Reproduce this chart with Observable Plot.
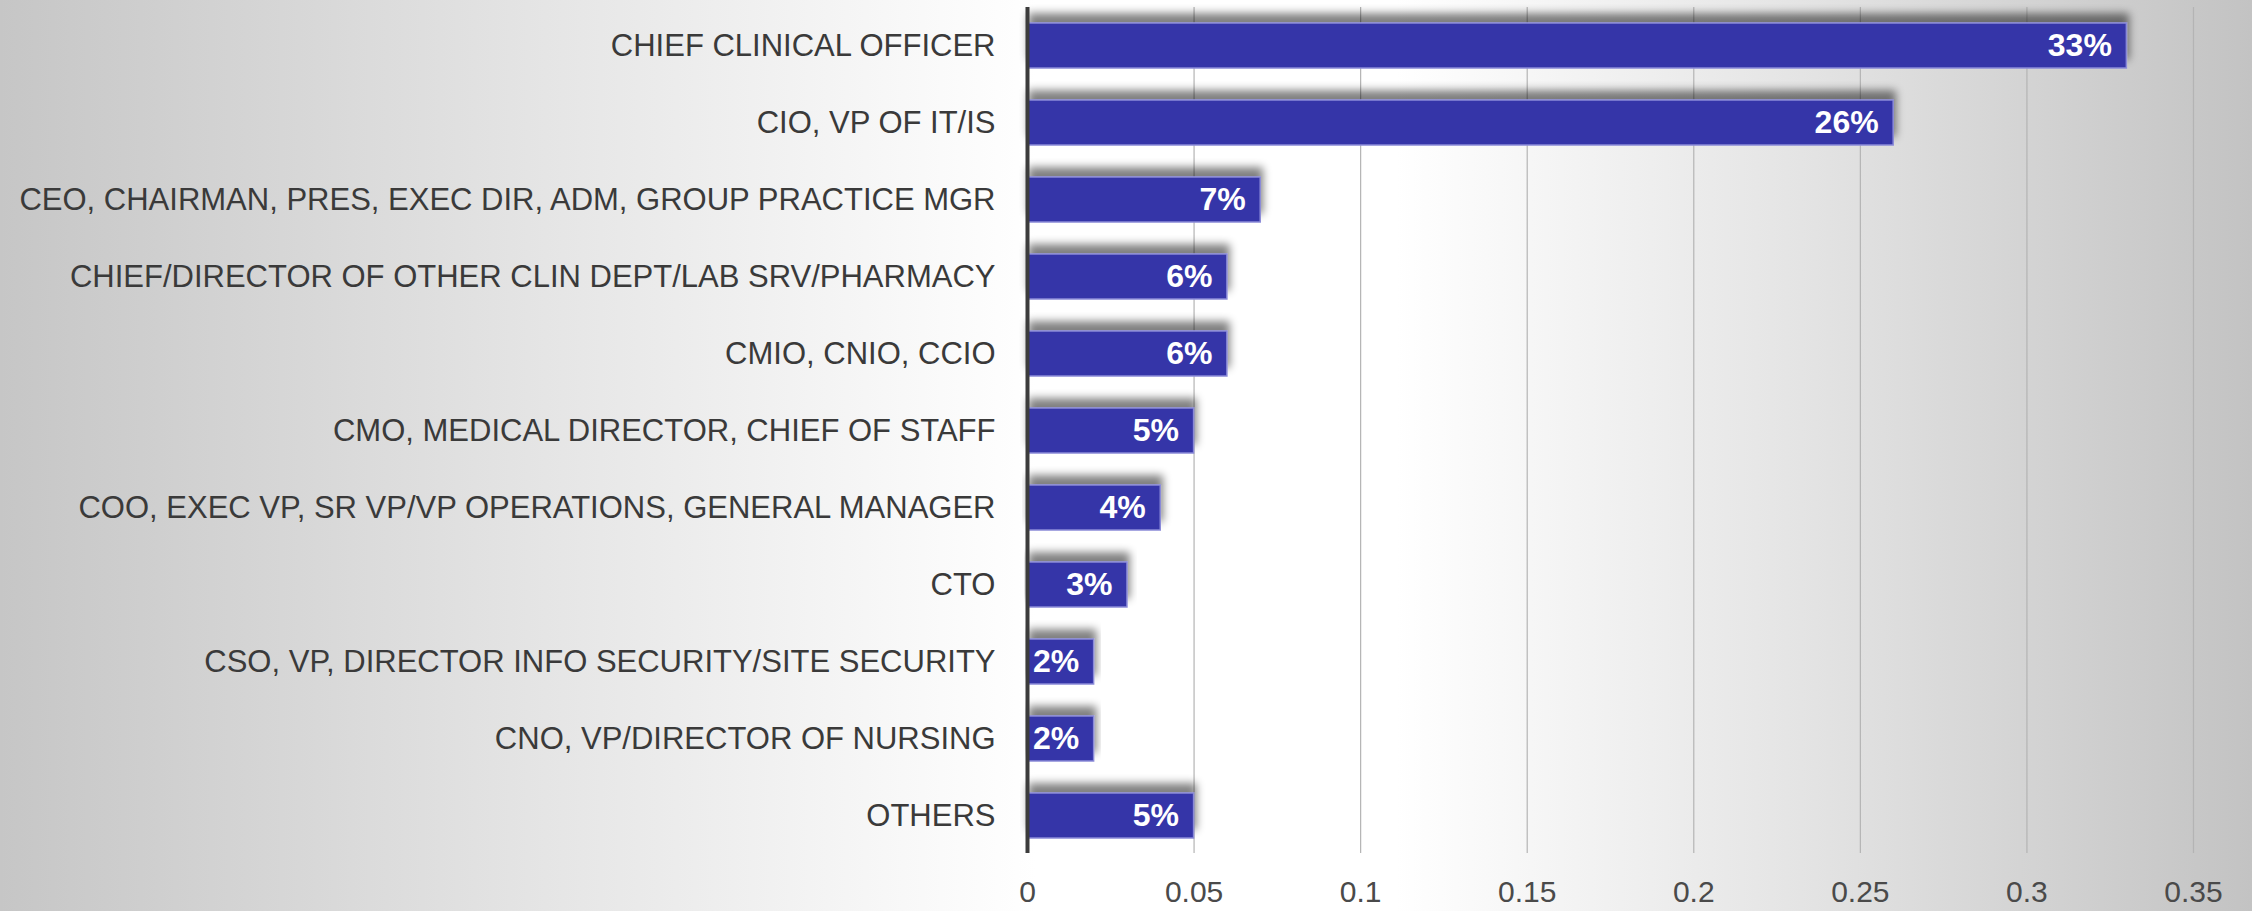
<!DOCTYPE html>
<html>
<head>
<meta charset="utf-8">
<script src="https://cdn.jsdelivr.net/npm/d3@7"></script>
<script src="https://cdn.jsdelivr.net/npm/@observablehq/plot@0.6"></script>
<style>
  html, body { margin: 0; padding: 0; }
  body {
    width: 2252px; height: 911px; overflow: hidden;
    background: linear-gradient(90deg, #c6c6c6 0%, #e6e6e6 25%, #ffffff 46%, #ffffff 62%, #e4e4e4 80%, #c3c3c3 100%);
  }
  #chart svg { display: block; }
</style>
</head>
<body>
<div id="chart"></div>
<script>
const roles = [
  "CHIEF CLINICAL OFFICER",
  "CIO, VP OF IT/IS",
  "CEO, CHAIRMAN, PRES, EXEC DIR, ADM, GROUP PRACTICE MGR",
  "CHIEF/DIRECTOR OF OTHER CLIN DEPT/LAB SRV/PHARMACY",
  "CMIO, CNIO, CCIO",
  "CMO, MEDICAL DIRECTOR, CHIEF OF STAFF",
  "COO, EXEC VP, SR VP/VP OPERATIONS, GENERAL MANAGER",
  "CTO",
  "CSO, VP, DIRECTOR INFO SECURITY/SITE SECURITY",
  "CNO, VP/DIRECTOR OF NURSING",
  "OTHERS"
];
const shares = [0.33, 0.26, 0.07, 0.06, 0.06, 0.05, 0.04, 0.03, 0.02, 0.02, 0.05];
const xTicks = [0, 0.05, 0.1, 0.15, 0.2, 0.25, 0.3, 0.35];
const gridTicks = [0.05, 0.1, 0.15, 0.2, 0.25, 0.3, 0.35];

const data = roles.map((r, i) => ({role: r, value: shares[i]}));

const chart = Plot.plot({
  width: 2252,
  height: 911,
  marginLeft: 1027,
  marginRight: 59,
  marginTop: 7,
  marginBottom: 58,
  style: {background: "transparent", fontFamily: "'Liberation Sans', Arial, sans-serif", color: "#404040"},
  x: {domain: [0, 0.35], axis: null},
  y: {domain: roles, paddingInner: 0.42, paddingOuter: 0.2, axis: null},
  marks: [
    Plot.ruleX(gridTicks, {stroke: "#b4b4b4", strokeWidth: 1.2}),
    Plot.barX(data, {y: "role", x: "value", fill: "#3434a8", stroke: "#8a8ad8", strokeWidth: 1.5}),
    Plot.text(data, {y: "role", x: "value", text: d => Math.round(d.value * 100) + "%", textAnchor: "end", dx: -15, fill: "white", fontWeight: "bold", fontSize: 32}),
    Plot.ruleX([0], {stroke: "#3c3c3c", strokeWidth: 4}),
    Plot.axisY({tickSize: 0, tickPadding: 32, fontSize: 31, fill: "#3a3a3a", label: null}),
    Plot.axisX({ticks: xTicks, tickSize: 0, tickPadding: 27, fontSize: 30, fill: "#4a4a4a", label: null, tickFormat: d => String(d)})
  ]
});

document.getElementById("chart").appendChild(chart);

// drop shadow above bars
const svg = d3.select(chart);
const defs = svg.insert("defs", ":first-child");
const f = defs.append("filter").attr("id", "barShadow").attr("x", "-5%").attr("y", "-60%").attr("width", "115%").attr("height", "200%");
f.append("feGaussianBlur").attr("in", "SourceAlpha").attr("stdDeviation", 4).attr("result", "blur");
f.append("feOffset").attr("in", "blur").attr("dx", 2).attr("dy", -9).attr("result", "off");
f.append("feComponentTransfer").attr("in", "off").attr("result", "shade")
  .append("feFuncA").attr("type", "linear").attr("slope", 0.5);
const m = f.append("feMerge");
m.append("feMergeNode").attr("in", "shade");
m.append("feMergeNode").attr("in", "SourceGraphic");
svg.selectAll("rect").filter(function() { return this.parentNode.getAttribute("aria-label") === "bar"; })
  .attr("filter", "url(#barShadow)");
</script>
</body>
</html>
